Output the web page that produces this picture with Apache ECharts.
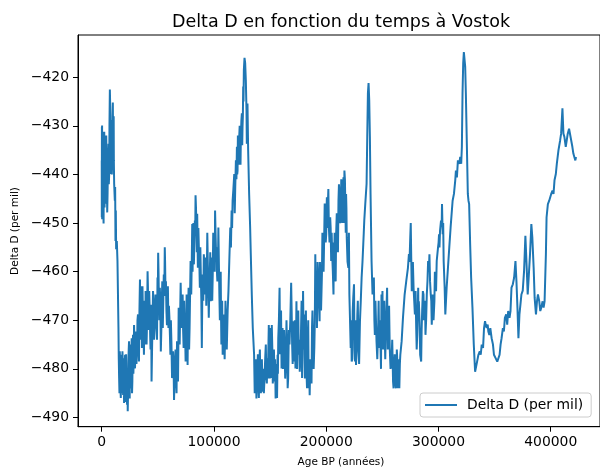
<!DOCTYPE html>
<html><head><meta charset="utf-8">
<script src="https://cdn.jsdelivr.net/npm/echarts@6/dist/echarts.min.js"></script>
<style>html,body{margin:0;padding:0;background:#fff}#c{width:600px;height:471px}</style>
</head><body><div id="c"></div>
<script>
const titleText = 'Delta D en fonction du temps à Vostok';
const xAxisName = 'Age BP (années)';
const yAxisName = 'Delta D (per mil)';
const seriesName = 'Delta D (per mil)';
const xTicks = [0, 100000, 200000, 300000, 400000];
const yTicks = [-490, -480, -470, -460, -450, -440, -430, -420];

// main readings (age in years BP, deltaD in per mil)
const ages = [
0,80,160,240,320,400,470,770,1060,1650,2240,2530,3120,3710,4300,4890,5480,6070,6660,7250,
7840,8130,8720,9310,9900,10490,10790,11080,11670,11960,12260,12550,12850,13440,14030,14910,15500,16090,16680,17270,
17860,18450,19040,19630,20220,20810,21400,21980,22570,23160,23750,24340,24930,25520,26110,26700,27290,27880,28470,29060,
29650,30530,31420,32300,33180,34070,34660,35250,35840,36720,37610,38490,39080,39960,40850,41440,42320,43210,43800,44390,
45270,46150,47040,47920,48800,49690,50280,50870,51750,52640,53520,54400,55290,56170,56760,57650,58530,59420,60300,61180,
62070,62660,63540,64420,65310,66190,67070,67960,68550,69430,70320,71200,72090,72970,73850,74740,75620,76500,77390,78270,
79160,79750,80630,81220,82100,82990,83580,84460,85050,85640,86530,87410,88290,89180,90060,90950,91830,92710,93600,94480,
95370,96250,97130,98020,98900,99780,
100390,100980,101860,102750,103330,103920,104810,105690,106280,106870,107750,108640,109230,109820,110700,112180,113650,114530,115710,116600,
118070,118950,119540,120430,121020,121610,122490,123380,123960,124850,125440,126030,126620,127210,127800,128380,128970,129270,129860,130450,
131330,132220,132800,133690,134570,135750,136930,137820,138700,139580,140470,141350,142240,143120,144010,144890,145770,146660,147540,148420,
149310,150190,151080,151960,152840,154020,154910,155790,156680,157270,158440,159330,160210,161090,161980,162860,164040,165220,166100,167280,
168760,169640,170530,171410,172590,173470,174650,175540,176420,177600,178480,179370,180550,181430,182320,183500,184380,185260,186440,187330,
188210,189390,190270,191160,191750,192930,194100,194690,196170,197050,198230,199110,200000,200590,201470,202360,203530,204420,205300,206480,
207080,207960,208840,210020,210910,211790,212970,213850,214740,215330,216210,217100,217690,218280,219750,220630,221810,222700,223580,224760,
225640,226530,227710,228590,230060,231540,233010,233900,234780,235960,236550,237140,237720,238310,238900,239490,240380,241260,242440,243320,
244800,246270,247160,248340,249220,250100,251280,252170,253050,254230,255410,256590,258060,259540,260420,261600,262480,263370,264250,265130,
266020,267200,268370,269850,271320,272800,273680,274860,275740,276630,277810,278990,280160,281050,281930,282520,283700,284590,285470,286650,
287530,288420,289600,290770,291950,293130,294010,294900,296370,297260,298430,299610,300500,301380,302270,303150,303740,304620,305510,306100,
307280,308450,309630,310810,
311420,312600,313780,314950,315540,316430,317310,318490,319380,320260,320850,321440,322030,322620,323210,323800,324390,325270,326150,326740,
327330,328220,329100,330280,331460,332640,333230,334400,335580,336760,337650,338530,339710,340590,341480,342070,342950,343840,344420,345310,
346190,347370,348550,349430,350910,352380,353270,354450,355330,356210,357390,358280,359160,360340,361220,362110,363290,364170,365050,366230,
367410,368590,369470,370360,371240,372130,373010,373890,375070,376250,377430,378610,379490,380380,381560,382740,383620,384800,385680,386860,
387750,388630,389810,390690,391580,392760,393640,394530,395700,396300,397470,398650,399540,400420,401600,402480,403370,404550,405430,406910,
408380,409260,410440,411320,412210,413390,414270,415160,416340,417520,418110,419280,420170,421050,421940,422530
];

const deltaD = [
-437.1,-448.8,-430.2,-445.4,-429.9,-449.2,-431.2,-444.0,-432.3,-450.1,-431.2,-446.8,-433.0,-441.2,-437.1,-447.8,-439.2,-433.7,-439.9,-422.5,
-433.7,-439.9,-428.8,-437.1,-425.2,-430.2,-437.1,-441.9,-445.4,-442.6,-453.7,-447.4,-455.4,-453.7,-457.8,-471.6,-481.9,-476.4,-484.0,-477.1,
-482.6,-476.4,-485.4,-477.8,-484.7,-477.1,-486.8,-481.2,-487.4,-488.7,-478.5,-474.3,-486.1,-477.1,-484.0,-473.7,-482.6,-473.0,-478.5,-473.7,
-479.9,-472.3,-476.4,-468.8,-478.5,-461.6,-471.6,-466.1,-475.7,-468.8,-477.1,-471.6,-464.0,-475.0,-459.9,-468.8,-464.0,-473.7,-466.8,-482.6,
-470.2,-466.1,-473.7,-464.7,-471.6,-461.2,-456.1,-464.7,-463.3,-476.4,-466.1,-471.6,-460.6,-455.0,-463.3,-468.1,-466.1,-471.6,-469.5,-477.1,
-474.3,-481.9,-476.4,-486.4,-478.5,-481.9,-474.3,-482.6,-467.4,-475.0,-462.3,-471.6,-464.7,-475.7,-470.2,-478.5,-464.7,-479.2,-463.3,-471.6,
-457.8,-464.7,-450.2,-455.0,-458.5,-449.5,-444.3,-452.3,-448.1,-459.2,-455.0,-463.3,-460.6,-475.7,-460.6,-456.4,-464.7,-457.1,-461.2,-457.8,
-469.5,-460.6,-466.1,-457.1,-460.6,-455.0,
-457.8,-447.4,-456.4,-460.6,-455.0,-450.9,-464.7,-464.0,-468.8,-471.6,-477.1,-468.8,-475.0,-473.7,-470.2,-468.1,-457.8,-450.9,-447.4,-445.4,
-439.9,-442.6,-437.1,-434.3,-439.2,-437.1,-432.3,-434.3,-432.3,-427.4,-430.2,-421.9,-418.5,-416.0,-417.1,-420.6,-426.8,-433.7,-425.4,-435.0,
-444.0,-450.9,-456.4,-464.7,-471.6,-477.1,-480.6,-486.1,-479.9,-484.0,-478.5,-484.0,-481.2,-484.7,-480.6,-482.6,-477.1,-481.9,-477.8,-476.4,
-478.5,-471.6,-481.9,-475.7,-479.9,-482.6,-486.1,-484.7,-477.1,-473.7,-463.3,-475.0,-479.9,-471.6,-478.5,-475.7,-478.5,-477.1,-481.9,-475.0,
-462.3,-475.0,-470.2,-478.5,-479.9,-466.1,-470.2,-477.1,-480.6,-471.6,-481.9,-464.0,-468.8,-474.3,-479.9,-475.0,-484.0,-485.4,-478.5,-471.6,
-474.3,-475.7,-456.4,-464.7,-471.6,-461.2,-470.2,-461.9,-460.6,-456.4,-452.3,-449.5,-452.3,-444.7,-446.1,-450.9,-448.8,-457.8,-456.4,-464.7,
-457.8,-460.6,-452.3,-450.9,-445.4,-444.0,-448.1,-442.6,-445.4,-440.6,-439.2,-447.4,-444.0,-453.0,-459.2,-464.7,-475.7,-478.5,-468.1,-462.6,
-478.5,-479.2,-468.8,-475.0,-470.2,-461.2,-454.3,-449.5,-446.1,-441.9,-432.3,-423.3,-421.2,-424.7,-432.3,-444.0,-457.8,-464.7,-461.2,-473.0,
-474.3,-471.6,-475.7,-475.0,-464.7,-464.0,-470.2,-473.7,-472.3,-463.3,-471.6,-475.7,-479.2,-482.6,-481.2,-482.6,-481.2,-478.5,-481.9,-484.0,
-477.1,-474.3,-469.5,-464.7,-461.9,-459.2,-456.4,-453.0,-457.1,-461.9,-463.3,-468.8,-471.6,-473.0,-463.3,-466.1,-477.1,-478.5,-468.1,-464.7,
-468.1,-473.0,-464.7,-457.8,-456.4,-464.7,-470.9,-464.7,-466.1,-462.6,-457.8,-455.0,-452.3,-451.6,-449.5,-446.1,-452.3,-457.8,-463.3,-468.8,
-463.3,-459.2,-455.0,-450.9,
-450.9,-445.4,-444.0,-441.2,-439.2,-440.6,-437.1,-437.8,-436.4,-437.8,-434.3,-423.3,-417.1,-414.8,-415.0,-417.8,-423.3,-433.7,-444.0,-445.4,
-446.1,-454.3,-461.2,-467.4,-475.0,-480.6,-480.9,-478.5,-477.1,-476.4,-477.1,-475.0,-475.7,-471.6,-470.2,-470.9,-471.6,-470.9,-472.3,-473.0,
-471.6,-473.7,-475.0,-477.1,-477.8,-478.5,-478.8,-477.1,-475.0,-473.7,-471.6,-472.3,-469.5,-468.8,-470.9,-468.1,-469.5,-468.1,-463.3,-462.6,
-461.2,-457.8,-462.0,-467.4,-473.7,-468.8,-466.8,-464.7,-463.9,-459.9,-452.6,-459.2,-464.7,-461.2,-456.4,-450.2,-453.0,-459.2,-465.4,-468.8,
-466.1,-464.7,-466.1,-468.1,-467.4,-466.1,-467.4,-466.1,-456.4,-448.8,-446.1,-445.4,-445.4,-444.0,-443.3,-444.0,-441.2,-439.9,-437.8,-435.0,
-433.0,-431.6,-426.4,-431.6,-432.3,-434.3,-433.0,-431.6,-430.6,-430.2,-430.9,-434.3,-435.7,-436.4,-437.1,-436.4
];

// extra readings of the noisy band edges (age, deltaD)
const detailAges = [
600,1300,1900,2700,3400,4000,4600,5200,5800,6300,6900,7550,8450,9000,9600,10200,10650,
15200,15800,16400,17000,17600,18200,18800,19300,19900,20500,21100,21700,22300,22900,23450,24050,24650,25200,25800,26400,27000,27600,28200,28800,29350,30100,30950,31850,32750,33600,
34350,34950,35550,36300,37150,38050,38800,39500,40400,41150,41900,42750,43500,44100,44850,45700,46600,47500,48350,49250,49950,50600,51300,52200,53100,53950,54850,55750,56450,57200,58100,58950,59850,60750,61600,62350,63100,64000,64850,65750,66650,67500,68250,69000,69900,70750,71650,72500,73400,74300,75200,76050,76950,77850,78700,80200,80950,81650,82550,83300,84000,84750,85350,86100,86950,87850,88750,89600,90500,91400,92250,93150,94050,94900,95800,96700,97550,98450,99350,
100700,101400,102300,103050,103600,104350,105250,106000,106600,107300,108200,108950,109500,110250,111400,112900,114100,115100,116150,117300,118500,119250,120000,120700,121300,122050,122900,123650,124400,125150,125750,126300,
136300,137300,138250,139100,140000,140900,141800,142700,143550,144450,145300,146200,147100,148000,148850,149750,150650,151500,152400,153400,154450,155350,156200,156950,157850,158900,159750,160650,161550,162400,163450,164600,165650,166700,168000,169200,170100,170950,172000,173050,174050,175100,176000,177000,178050,178900,179950,181000,181900,182900,183950,184800,185850,186900,187750,188800,189850,190700,191450,192300,193500,194400,195400,196600,197650,198650,199550,200300,201000,201900,202950,203950,204850,205900,206800,
207500,208400,209400,210450,211350,212400,213400,214300,215000,215750,216650,217400,218000,219000,220200,221200,222250,223150,224150,225200,226100,227100,228150,229300,230800,232300,233450,
242900,243850,245500,246700,247750,248800,249650,250700,251700,252600,253650,254800,256000,257300,258800,260000,261000,262050,262900,263800,264700,265600,
274200,275300,276200,277200,278400,279600,280600,282200,283100,285000,286100,287000,288000,289000,290200,291400,292500,293600,294450,295600,296800,297850,299000,300100,300900,302900,304200
];
const detailDeltaD = [
-440,-446,-436,-433,-446,-432,-442,-444,-436,-442,-430,-426,-435,-440,-428,-436,-428,
-478,-485,-479,-486,-478,-485,-479,-482,-487,-479,-483,-477,-484,-480,-485,-476,-482,-475,-483,-478,-485,-476,-481,-471,-477,-475,-479,-470,-475,-468,
-474,-463,-470,-463,-472,-466,-475,-467,-470,-463,-472,-468,-476,-470,-476,-464,-474,-469,-466,-474,-466,-460,-470,-466,-472,-462,-466,-465,-458,-462,-471,-463,-467,-473,-470,-478,-480,-479,-482,-476,-485,-478,-476,-470,-468,-468,-468,-472,-466,-473,-475,-470,-468,-476,-465,-458,-460,-450,-454,-452,-447,-456,-453,-451,-458,-455,-466,-465,-466,-459,-461,-467,-452,-463,-464,-456,-463,-466,-452,
-460,-452,-455,-462,-458,-458,-470,-460,-475,-466,-475,-471,-478,-466,-476,-464,-458,-455,-451,-443,-448,-443,-441,-440,-432,-438,-430,-438,-429,-434,-428,-425,
-485,-478,-482,-477,-486,-476,-485,-478,-480,-485,-480,-475,-483,-482,-471,-482,-477,-471,-483,-476,-478,-479,-486,-481,-470,-477,-468,-476,-480,-472,-482,-470,-484,-472,-470,-468,-479,-474,-470,-476,-480,-468,-474,-478,-466,-477,-476,-482,-468,-484,-470,-480,-478,-483,-468,-480,-470,-466,-460,-458,-466,-458,-468,-452,-460,-446,-454,-447,-451,-443,-454,-451,-452,-460,-454,
-452,-462,-448,-456,-442,-450,-441,-450,-444,-450,-441,-452,-447,-458,-452,-470,-470,-478,-465,-476,-470,-476,-466,-479,-466,-458,-452,
-470,-466,-478,-466,-470,-480,-470,-476,-466,-478,-468,-476,-467,-480,-474,-484,-477,-484,-476,-484,-478,-479,
-458,-450,-464,-458,-466,-464,-476,-470,-470,-472,-464,-470,-466,-470,-462,-460,-462,-466,-468,-470,-460,-464,-458,-454,-455,-450,-450
];

const FONT = 'DejaVu Sans';
const data = ages.map((a, i) => [a, deltaD[i]])
  .concat(detailAges.map((a, i) => [a, detailDeltaD[i]]))
  .sort((p, q) => p[0] - q[0]);
const minusFmt = v => String(v).replace('-', '\u2212');

const chart = echarts.init(document.getElementById('c'), null, {renderer: 'canvas'});
chart.setOption({
  animation: false,
  backgroundColor: '#fff',
  grid: {left: 78, top: 35, width: 526, height: 391.7, show: true, borderColor: '#000', borderWidth: 1, backgroundColor: 'transparent'},
  xAxis: {
    type: 'value', min: -21138, max: 443904,
    axisLine: {show: true, onZero: false, lineStyle: {color: '#000', width: 1}},
    axisTick: {show: true, inside: false, length: 5, customValues: xTicks, lineStyle: {color: '#000'}},
    axisLabel: {show: true, customValues: xTicks, margin: 9, color: '#000', fontFamily: FONT, fontSize: 13.9, formatter: minusFmt},
    splitLine: {show: false}
  },
  yAxis: {
    type: 'value', min: -491.9, max: -411.3,
    axisLine: {show: true, onZero: false, lineStyle: {color: '#000', width: 1}},
    axisTick: {show: true, inside: false, length: 5, customValues: yTicks, lineStyle: {color: '#000'}},
    axisLabel: {show: true, customValues: yTicks, margin: 9, color: '#000', fontFamily: FONT, fontSize: 13.9, formatter: minusFmt},
    splitLine: {show: false}
  },
  legend: {
    data: [seriesName], left: 420, top: 393, icon: 'rect', itemWidth: 32, itemHeight: 2,
    padding: [5, 8, 5, 5], backgroundColor: 'rgba(255,255,255,0.8)', borderColor: '#cccccc', borderWidth: 1, borderRadius: 3,
    textStyle: {color: '#000', fontFamily: FONT, fontSize: 13.9, padding: [0, 0, 0, 5]}
  },
  graphic: [
    {type: 'text', x: 341, y: 22, style: {text: titleText, fill: '#000', font: '17.5px "DejaVu Sans"', textAlign: 'center', textVerticalAlign: 'middle'}},
    {type: 'text', x: 341, y: 462, style: {text: xAxisName, fill: '#000', font: '10.5px "DejaVu Sans"', textAlign: 'center', textVerticalAlign: 'middle'}},
    {type: 'text', x: 15, y: 231, rotation: Math.PI / 2, style: {text: yAxisName, fill: '#000', font: '10.5px "DejaVu Sans"', textAlign: 'center', textVerticalAlign: 'middle'}}
  ],
  series: [{
    name: seriesName, type: 'line', data: data, showSymbol: false, symbol: 'none',
    lineStyle: {color: '#1f77b4', width: 2}, itemStyle: {color: '#1f77b4'}, z: 3
  }]
});
</script>
</body></html>
